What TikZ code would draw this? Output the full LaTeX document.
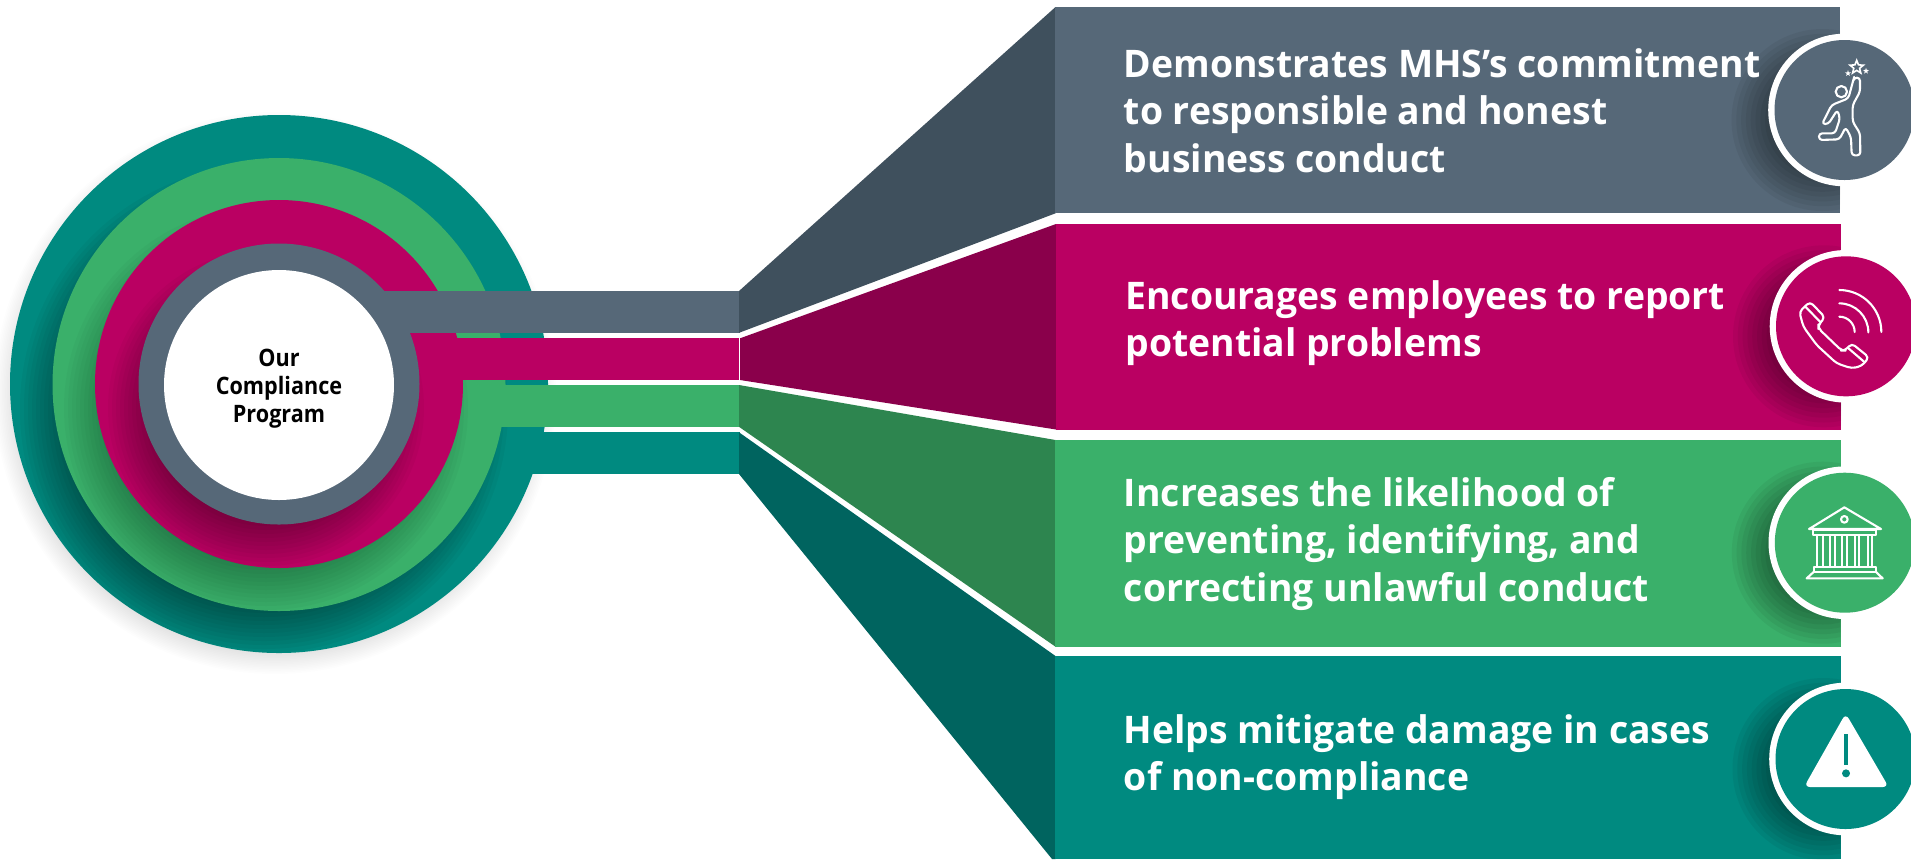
\documentclass[tikz,border=0pt]{standalone}
\usepackage{fontspec}
\setmainfont{Open Sans}[FakeStretch=0.983]
\newfontfamily\corefont{Open Sans}[FakeStretch=0.9]
\usetikzlibrary{shapes.geometric}
\definecolor{slateC}{HTML}{566878}\definecolor{slateD}{HTML}{3F505D}
\definecolor{magC}{HTML}{BA0062}\definecolor{magD}{HTML}{8A004B}
\definecolor{greenC}{HTML}{3AB06A}\definecolor{greenD}{HTML}{2D854F}
\definecolor{tealC}{HTML}{008A80}\definecolor{tealD}{HTML}{00645F}
\newcommand\softshadow[5]{% x y r blur alpha
  \foreach \i in {0,...,15}{
    \pgfmathsetmacro\rr{#3+#4-2*#4*\i/15}
    \pgfmathsetmacro\aa{#5/16}
    \fill[black,fill opacity=\aa] (#1,#2) circle[radius=\rr];
  }}
\tikzset{
  paneltext/.style={anchor=north west,inner sep=0pt,text=white,align=left,
    font=\fontsize{19}{23.75}\selectfont\bfseries},
  icon/.style={draw=white,line width=1.05pt,line join=round,line cap=round},
}
\begin{document}
\begin{tikzpicture}[x=0.5pt,y=-0.5pt]
\useasboundingbox (0,0) rectangle (1911,859);
\fill[white] (0,0) rectangle (1911,859);
% --- concentric rings
\softshadow{275}{393}{269}{12}{0.1}
\fill[tealC] (279,384) circle[radius=269];
\fill[tealC] (279,432) rectangle (739.5,474);
\begin{scope}\clip (279,384) circle[radius=269];
\softshadow{264}{409}{214}{30}{0.55}\end{scope}
\fill[greenC] (279,384.5) circle[radius=226.5];
\fill[greenC] (279,385) rectangle (739.5,427);
\begin{scope}\clip (279,384.5) circle[radius=226.5];
\softshadow{266}{408}{172}{30}{0.38}\end{scope}
\fill[magC] (279,384) circle[radius=184];
\fill[magC] (279,338) rectangle (739.3,380);
\begin{scope}\clip (279,384) circle[radius=184];
\softshadow{266}{408}{128}{30}{0.48}\end{scope}
\fill[slateC] (279,384) circle[radius=140.5];
\fill[slateC] (279,291) rectangle (739.5,333);
\fill[white] (279,385) circle[radius=115];
\node[font=\corefont\fontsize{12}{14}\selectfont\bfseries,text=black,align=center,inner sep=0pt] (core) at (279,389) {Our\\Compliance\\Program};
% --- trapezoids
\fill[slateD] (739,291) -- (1055.5,7) -- (1055.5,213.3) -- (739,332.8) -- cycle;
\fill[magD] (740,338.3) -- (1056,224) -- (1056,429.5) -- (740,380) -- cycle;
\fill[greenD] (739,385) -- (1055.5,440) -- (1055.5,646.7) -- (739,426.8) -- cycle;
\fill[tealD] (739,432.3) -- (1055.5,656) -- (1055.5,859) -- (1052,859) -- (739,474) -- cycle;
% --- panels
\fill[slateC] (1055,7) rectangle (1840,213.3);
\fill[magC] (1055.7,224) rectangle (1841,430);
\fill[greenC] (1055,440) rectangle (1840.5,646.7);
\fill[tealC] (1055,656) rectangle (1840.5,859);
% --- icon shadows
\begin{scope}\clip (1055,7) rectangle (1840,213.3);\softshadow{1822.5}{120}{55}{36}{0.8}\end{scope}
\begin{scope}\clip (1055.7,224) rectangle (1841,430);\softshadow{1824}{336.3}{55}{36}{0.8}\end{scope}
\begin{scope}\clip (1055,440) rectangle (1840.5,646.7);\softshadow{1822.8}{552.7}{55}{36}{0.8}\end{scope}
\begin{scope}\clip (1055,656) rectangle (1840.5,859);\softshadow{1823.5}{769}{55}{36}{0.8}\end{scope}
% --- icon discs
\fill[white] (1844.5,110) circle[radius=76.3]; \fill[slateC] (1844.5,110) circle[radius=70];
\fill[white] (1846,326.3) circle[radius=76.3]; \fill[magC] (1846,326.3) circle[radius=70];
\fill[white] (1844.8,542.7) circle[radius=76.3]; \fill[greenC] (1844.8,542.7) circle[radius=70];
\fill[white] (1845.5,759) circle[radius=76.3]; \fill[tealC] (1845.5,759) circle[radius=70];
% --- person icon
\begin{scope}[shift={(1780,50)},x=0.16667pt,y=-0.16667pt]
\draw[icon] (184,125) circle[radius=17];
\draw[icon,rounded corners=1.6pt] (220,90) -- (222,83) -- (240,83) -- (240,125) -- (218,165) -- (218,215) -- (240,250) -- (241,316) -- (215,316) -- (213,262) -- (197,232) -- (178,268) -- (117,270) -- (117,250) -- (165,250) -- (180,205) -- (172,180) -- (145,222) -- (126,222) -- (155,165) -- (205,145) -- cycle;
\node[star,star points=5,star point ratio=2.3,draw=white,line width=0.8pt,inner sep=0pt,minimum size=7pt] (starA) at (230,52) {};
\node[star,star points=5,star point ratio=2.5,fill=white,inner sep=0pt,minimum size=3.2pt] (starB) at (204,70) {};
\node[star,star points=5,star point ratio=2.5,fill=white,inner sep=0pt,minimum size=3.2pt] (starC) at (258,63) {};
\end{scope}
% --- phone icon
\begin{scope}[shift={(1780,260)},x=0.16667pt,y=-0.16667pt]
\draw[icon,rounded corners=2pt] (90,125) -- (135,172) -- (115,195) -- (115,205) -- (185,272) -- (195,272) -- (215,250) -- (267,292) -- (245,318) -- (215,325) -- (170,310) -- (110,255) -- (70,200) -- (58,155) -- cycle;
\draw[icon] (76,140) -- (122,187);
\draw[icon] (203,263) -- (252,305);
\draw[icon] (178,170) arc[start angle=-90,end angle=0,radius=46];
\draw[icon] (178,130) arc[start angle=-90,end angle=0,radius=87];
\draw[icon] (178,90) arc[start angle=-90,end angle=0,radius=126];
\end{scope}
% --- bank icon
\begin{scope}[shift={(1700,430)},x=0.16667pt,y=-0.16667pt]
\draw[icon] (433,232) -- (327,297) -- (543,297) -- cycle;
\draw[icon] (433,268) circle[radius=10];
\draw[icon] (340,300) rectangle (527,315);
\foreach \a/\b in {352/370,390/405,427/442,465/478,503/515}{\draw[icon] (\a,315) rectangle (\b,412);}
\draw[icon] (342,412) rectangle (527,425);
\draw[icon] (342,425) -- (320,445) -- (548,445) -- (527,425);
% --- warning icon
\fill[white,rounded corners=3pt] (437,850) -- (312,1071) -- (566,1071) -- cycle;
\fill[tealC] (432,912) rectangle (445,1005);
\fill[tealC] (438,1030) circle[radius=12];
\end{scope}
% --- texts
\node[paneltext] (t1) at (1123.5,48) {Demonstrates MHS’s commitment\\to responsible and honest\\business conduct};
\node[paneltext] (t2) at (1125,280) {Encourages employees to report\\potential problems};
\node[paneltext] (t3) at (1123.5,477) {Increases the likelihood of\\preventing, identifying, and\\correcting unlawful conduct};
\node[paneltext] (t4) at (1123.5,714) {Helps mitigate damage in cases\\of non-compliance};
\end{tikzpicture}
\end{document}
